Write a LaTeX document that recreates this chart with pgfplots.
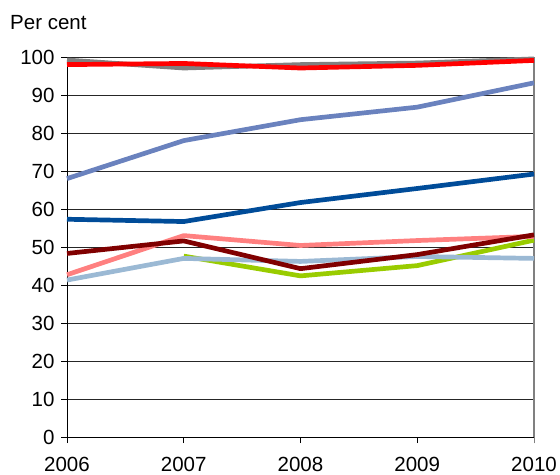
\documentclass[border=0pt]{standalone}
\usepackage{pgfplots}
\pgfplotsset{compat=1.18}
\usepackage{fontspec}
\setmainfont{Liberation Sans}
\definecolor{cgray}{RGB}{128,128,128}
\definecolor{cred}{RGB}{255,0,0}
\definecolor{cbluegray}{RGB}{106,130,190}
\definecolor{cdarkblue}{RGB}{0,76,153}
\definecolor{cpink}{RGB}{255,128,128}
\definecolor{cdarkred}{RGB}{128,0,0}
\definecolor{cgreen}{RGB}{153,204,0}
\definecolor{clightblue}{RGB}{155,185,212}
\begin{document}
\begin{tikzpicture}
\path[use as bounding box] (-67bp,-38bp) rectangle (493bp,437bp);
\begin{axis}[
  at={(0,0)}, anchor=origin,
  scale only axis, width=467bp, height=380bp,
  xmin=2006, xmax=2010, ymin=0, ymax=100,
  xtick={2006,2007,2008,2009,2010},
  ytick={0,10,...,100},
  axis lines=left,
  axis line style={-, black, line width=1bp},
  tick align=outside, major tick length=6bp,
  tick style={black, line width=0.8bp},
  ymajorgrids, major grid style={black!85, line width=0.8bp},
  extra x ticks={2010}, extra x tick labels={},
  extra x tick style={xmajorgrids, major grid style={draw=gray, line width=1.5bp}, tick style={gray, line width=1bp}},
  /pgf/number format/assume math mode=true,
  x tick label style={/pgf/number format/1000 sep={}, font=\fontsize{20.5bp}{24bp}\selectfont, yshift=-11bp},
  y tick label style={font=\fontsize{20.5bp}{24bp}\selectfont, xshift=-3bp},
  every axis plot/.append style={line width=4.7bp, mark=none, line join=round},
  clip=false,
]
\addplot[cgray] coordinates {(2006,99.2) (2007,97.1) (2008,98.0) (2009,98.4) (2010,99.5)};
\addplot[cred] coordinates {(2006,98.0) (2007,98.3) (2008,97.1) (2009,97.8) (2010,99.1)};
\addplot[cbluegray] coordinates {(2006,68.0) (2007,78.0) (2008,83.5) (2009,86.8) (2010,93.2)};
\addplot[cdarkblue] coordinates {(2006,57.3) (2007,56.7) (2008,61.7) (2009,65.4) (2010,69.2)};
\addplot[cgreen] coordinates {(2007,47.6) (2008,42.4) (2009,45.1) (2010,51.8)};
\addplot[clightblue] coordinates {(2006,41.3) (2007,47.0) (2008,46.2) (2009,47.5) (2010,47.0)};
\addplot[cpink] coordinates {(2006,42.7) (2007,53.0) (2008,50.4) (2009,51.7) (2010,52.8)};
\addplot[cdarkred] coordinates {(2006,48.3) (2007,51.6) (2008,44.3) (2009,48.0) (2010,53.2)};
\node[anchor=base west, inner sep=0pt, font=\fontsize{20.5bp}{24bp}\selectfont] at ([xshift=-57bp, yshift=27bp]rel axis cs:0,1) {Per cent};
\end{axis}
\end{tikzpicture}
\end{document}
